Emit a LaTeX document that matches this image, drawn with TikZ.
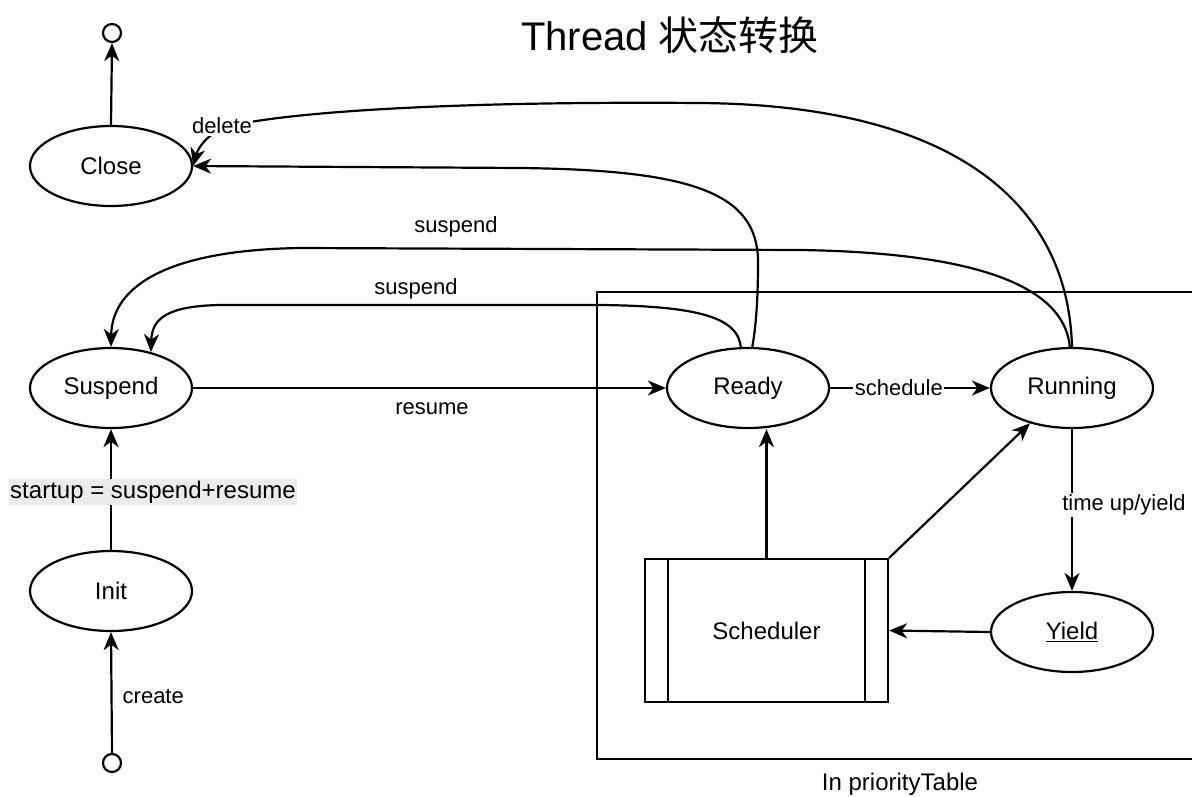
\documentclass[tikz,border=0pt]{standalone}
\usepackage{fontspec}
\setmainfont{Liberation Sans}
\newfontfamily\cjk{Noto Sans CJK SC}
\usetikzlibrary{shapes.geometric,arrows.meta,calc}

\tikzset{
  state/.style={ellipse,draw,line width=2.2pt,minimum width=162pt,minimum height=80pt,
    inner sep=0pt,font=\fontsize{24}{28}\selectfont},
  endpt/.style={circle,draw,line width=2.2pt,minimum size=18pt,inner sep=0pt},
  procbox/.style={rectangle,draw,line width=2.2pt,minimum width=243pt,minimum height=143pt,
    inner sep=0pt,font=\fontsize{24}{28}\selectfont},
  arr/.style={line width=2.2pt,-{Stealth[length=18pt,width=15pt,inset=5.5pt]}},
  lbl/.style={font=\fontsize{22}{26}\selectfont,inner sep=1.5pt},
  onlbl/.style={lbl,fill=white},
}

\begin{document}
\begin{tikzpicture}[x=1pt,y=-1pt]
\useasboundingbox (0,0) rectangle (1192,796);
\fill[white] (0,0) rectangle (1192,796);

% title
\node (title) at (670,35) {\fontsize{40}{48}\selectfont Thread {\cjk 状态转换}};

% priority table frame
\draw[line width=2.2pt] (597,292) rectangle (1203,759);
\node[font=\fontsize{24}{28}\selectfont] (ptab) at (900,784) {In priorityTable};

% states
\node[endpt] (endc) at (112,33) {};
\node[state] (close) at (111,166) {Close};
\node[state] (sus) at (111,388) {Suspend};
\node[state] (init) at (111,591) {Init};
\node[endpt] (startc) at (112,763) {};
\node[state] (ready) at (748,388) {Ready};
\node[state] (running) at (1072,388) {Running};
\node[state] (yield) at (1072,632) {\underline{Yield}};
\node[procbox] (sched) at (766.5,630.5) {Scheduler};
\draw[line width=2.2pt] ([xshift=24pt]sched.north west) -- ([xshift=24pt]sched.south west);
\draw[line width=2.2pt] ([xshift=-24pt]sched.north east) -- ([xshift=-24pt]sched.south east);

% straight transitions
\draw[arr] (close.north) -- (endc.south);
\draw[arr] (startc.north) -- (init.south);
\node[lbl,anchor=west] (createl) at (121,696) {create};
\draw[arr] (init.north) -- (sus.south);
\node[lbl,fill=black!8,font=\fontsize{24}{28}\selectfont] (startl) at (153,492) {startup = suspend+resume};
\draw[arr] (sus.east) -- (ready.west);
\node[lbl] (resumel) at (432,409) {resume};
\draw[arr] (ready.east) -- node[onlbl,pos=0.43] (schedl) {schedule} (running.west);
\draw[arr] (running.south) -- node[onlbl,pos=0.47,xshift=52pt] (yieldl) {time up/yield} (yield.north);
\draw[arr] (yield.west) -- (sched.east);
\draw[arr] (sched.north) -- (sched.north |- ready.south);
\draw[arr] (sched.north east) -- (running.220);

% curved transitions
\draw[arr] (ready.100) .. controls (738,318) and (700,306) .. (600,305)
  -- (220,305) .. controls (168,306) and (152,318) .. (sus.42);
\node[lbl] (susl2) at (416,289) {suspend};

\draw[arr] (running.93) .. controls (1065,295) and (1000,253) .. (800,250)
  -- (300,248) .. controls (170,250) and (112,285) .. (sus.north);
\node[lbl] (susl1) at (456,227) {suspend};

\draw[arr] (ready.84) .. controls (757,320) and (758,290) .. (758,262)
  .. controls (758,192) and (690,170) .. (520,168) -- (close.east);

\draw[arr] (running.north) .. controls (1068,200) and (950,105) .. (700,103)
  .. controls (450,101) and (290,112) .. (230,126)
  .. controls (208,132) and (198,148) .. (close.east);
\node[onlbl] (dell) at (222,126) {delete};
\end{tikzpicture}
\end{document}
